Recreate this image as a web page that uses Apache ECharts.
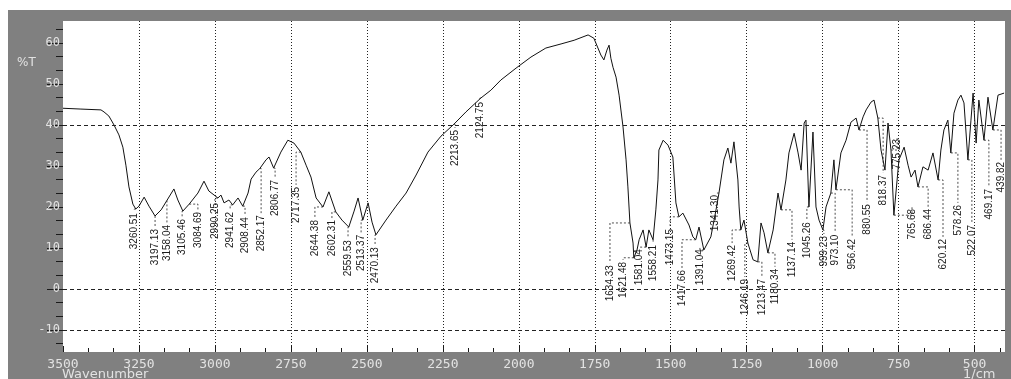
<!DOCTYPE html>
<html>
<head>
<meta charset="utf-8">
<title>IR spectrum</title>
<script src="https://cdn.jsdelivr.net/npm/echarts@6/dist/echarts.min.js"></script>
<style>
  html, body { margin: 0; padding: 0; background: #ffffff; }
  #chart { width: 1011px; height: 379px; }
</style>
</head>
<body>
<div id="chart"></div>
<script>
// Spectrum trace: wavenumber (1/cm) and transmittance (%T)
const wavenumber = [
  3500, 3441, 3375, 3365, 3349, 3332, 3316, 3303, 3293, 3283, 3270, 3260.51, 3250, 3233, 3217,
  3197.13, 3177, 3158.04, 3135, 3122, 3105.46, 3084.69, 3056, 3036, 3020, 2990.25, 2980, 2970,
  2954, 2941.62, 2924, 2908.44, 2891, 2881, 2865, 2852.17, 2832, 2822, 2806.77, 2783, 2760, 2740,
  2717.35, 2700, 2684, 2667, 2644.38, 2625, 2602.31, 2582, 2559.53, 2542, 2529, 2513.37, 2496,
  2483, 2470.13, 2437, 2404, 2371, 2338, 2299, 2256, 2213.65, 2174, 2124.75, 2092, 2059, 2009,
  1960, 1911, 1861, 1818, 1772, 1753, 1730, 1720, 1710, 1703, 1697, 1690, 1680, 1670, 1657,
  1647, 1641, 1634.33, 1624, 1621.48, 1611, 1604, 1591, 1581.04, 1572, 1558.21, 1549, 1542,
  1539, 1525, 1509, 1493, 1483, 1473.15, 1460, 1440, 1427, 1417.66, 1407, 1391.04, 1368, 1351,
  1341.30, 1325, 1312, 1302, 1292, 1279, 1275, 1269.42, 1259, 1246.19, 1229, 1213.47, 1203,
  1193, 1180.34, 1163, 1147, 1137.14, 1121, 1111, 1094, 1081, 1071, 1061, 1055, 1045.26, 1032,
  1022, 1012, 999.23, 989, 973.10, 963, 956.42, 940, 923, 907, 890, 880.55, 867, 857, 841, 831,
  818.37, 808, 795, 785, 775.23, 765.68, 749, 732, 719, 709, 696, 686.44, 670, 653, 637, 620.12,
  611, 601, 588, 578.26, 568, 555, 545, 535, 522.07, 512, 505, 495, 486, 469.17, 456, 439.82,
  423, 403
];
const transmittance = [
  44.1, 43.9, 43.7, 43.2, 42.2, 40.0, 37.6, 34.6, 30.2, 24.9, 20.7, 19.5, 20.2, 22.4, 20.2,
  17.8, 19.3, 21.6, 24.4, 21.7, 19.0, 20.7, 23.4, 26.3, 23.9, 22.2, 22.9, 21.0,
  21.7, 20.5, 22.2, 20.2, 23.4, 26.8, 28.5, 29.4, 31.5, 32.2, 29.5, 33.4, 36.3, 35.6,
  33.4, 30.2, 27.3, 22.2, 20.0, 23.7, 18.8, 16.8, 15.1, 19.0, 22.2, 16.8, 21.0,
  16.3, 13.2, 16.8, 20.2, 23.4, 27.8, 33.4, 37.3, 40.2, 43.2, 46.6, 48.5, 51.0, 53.9,
  56.6, 58.8, 59.8, 60.7, 62.0, 61.2, 57.1, 55.9, 58.3, 59.5, 56.3, 54.1, 51.7, 47.3, 39.5,
  31.5, 24.9, 16.1, 11.2, 7.6, 9.5, 12.0, 14.4, 10.2, 14.4, 12.0, 19.3, 26.6,
  33.9, 36.3, 35.1, 32.2, 21.0, 17.6, 18.5, 15.6, 12.7, 12.0, 15.1, 9.5, 12.7, 19.3,
  23.4, 31.5, 34.4, 30.7, 35.9, 26.6, 20.0, 14.4, 16.8, 11.2, 7.1, 6.6, 16.1,
  13.7, 8.8, 14.4, 23.4, 19.3, 26.6, 33.2, 38.0, 33.2, 29.0, 40.5, 41.2, 20.0, 38.3,
  20.0, 16.8, 14.4, 20.0, 23.4, 31.5, 24.2, 33.2, 36.3, 40.7, 41.7, 38.8, 42.0, 43.7, 45.6, 46.1,
  41.7, 33.9, 29.0, 40.5, 33.9, 18.0, 31.5, 34.6, 30.2, 27.3, 29.0, 24.9, 29.8, 29.0, 33.2, 26.6,
  33.9, 38.8, 41.2, 33.2, 42.9, 46.1, 47.3, 45.4, 31.5, 41.2, 47.8, 35.6, 46.1, 36.3, 46.8, 38.8,
  47.3, 47.8
];

// Picked peaks (value printed beside each one)
const peakWn = [
  3260.51, 3197.13, 3158.04, 3105.46, 3084.69, 2990.25, 2941.62, 2908.44, 2852.17, 2806.77,
  2717.35, 2644.38, 2602.31, 2559.53, 2513.37, 2470.13, 2213.65, 2124.75,
  1634.33, 1621.48, 1581.04, 1558.21, 1473.15, 1417.66, 1391.04, 1341.30, 1269.42, 1246.19,
  1213.47, 1180.34, 1137.14, 1045.26, 999.23, 973.10, 956.42, 880.55, 818.37, 775.23, 765.68,
  686.44, 620.12, 578.26, 522.07, 469.17, 439.82
];
const peakT = [
  19.5, 17.8, 21.6, 19.0, 20.7, 22.2, 20.5, 20.2, 29.4, 29.5,
  33.4, 20.0, 18.8, 15.1, 16.8, 13.2, 40.2, 46.6,
  16.1, 7.6, 10.2, 12.0, 17.6, 12.0, 9.5, 23.4, 14.4, 11.2,
  6.6, 8.8, 19.3, 20.0, 14.4, 23.4, 24.2, 38.8, 41.7, 33.9, 18.0,
  24.9, 26.6, 33.2, 31.5, 36.3, 38.8
];
// Where each peak label is set (top end of the rotated text)
const labelWn = [
  3266, 3197, 3158, 3108, 3056, 3000, 2950, 2901, 2848, 2802,
  2733, 2671, 2615, 2562, 2519, 2473, 2210, 2128,
  1700, 1657, 1604, 1558, 1502, 1463, 1404, 1354, 1298, 1256,
  1200, 1157, 1101, 1052, 996, 959, 903, 854, 801, 755, 706,
  653, 604, 555, 509, 453, 413
];
const labelT = [
  19.0, 15.1, 16.1, 17.6, 19.3, 21.5, 19.3, 18.0, 18.5, 27.1,
  25.4, 17.3, 17.3, 12.4, 13.7, 10.7, 39.3, 46.1,
  6.3, 7.1, 10.2, 11.2, 15.1, 5.1, 10.2, 23.4, 11.2, 2.9,
  2.9, 5.4, 12.0, 16.8, 13.4, 13.7, 12.7, 21.2, 28.3, 37.1, 20.0,
  20.0, 12.7, 21.0, 16.1, 24.9, 31.5
];
const peakLabels = peakWn.map(function (v) { return v.toFixed(2); });

// Axis ticks and reference lines
const xTickValues = [3500, 3250, 3000, 2750, 2500, 2250, 2000, 1750, 1500, 1250, 1000, 750, 500];
const xMinorTicks = [3416.7, 3333.3, 3166.7, 3083.3, 2916.7, 2833.3, 2666.7, 2583.3, 2416.7, 2333.3,
  2166.7, 2083.3, 1916.7, 1833.3, 1666.7, 1583.3, 1416.7, 1333.3, 1166.7, 1083.3, 916.7, 833.3,
  666.7, 583.3, 416.7];
const yTickValues = [60, 50, 40, 30, 20, 10, 0, -10];
const yMinorTicks = [63.3, 56.7, 53.3, 46.7, 43.3, 36.7, 33.3, 26.7, 23.3, 16.7, 13.3, 6.7, 3.3,
  -3.3, -6.7, -13.3];
const verticalGrid = [3250, 3000, 2750, 2500, 2250, 2000, 1750, 1500, 1250, 1000, 750, 500];
const horizontalGrid = [40, 0, -10];

const X_MIN = 400, X_MAX = 3500, Y_MIN = -15.4, Y_MAX = 65.4;
const INK = '#1a1a1a';
const PALE = '#e2e2e2';
const plain = function (v) { return String(v); };

const chart = echarts.init(document.getElementById('chart'), null, { renderer: 'canvas' });

const gridLines = verticalGrid.map(function (v) {
  return { xAxis: v, lineStyle: { type: [1, 2], color: '#222', width: 1 } };
}).concat(horizontalGrid.map(function (v) {
  return { yAxis: v, lineStyle: { type: [4, 3], color: '#222', width: 1 } };
}));

const xBase = {
  type: 'value', inverse: true, min: X_MIN, max: X_MAX, position: 'bottom',
  axisLine: { show: false, onZero: false }, splitLine: { show: false }
};
const yBase = {
  type: 'value', min: Y_MIN, max: Y_MAX, position: 'left',
  axisLine: { show: false, onZero: false }, splitLine: { show: false }
};

chart.setOption({
  animation: false,
  backgroundColor: '#ffffff',
  grid: {
    left: 63, right: 6, top: 21, bottom: 27,
    show: true, backgroundColor: '#ffffff', borderWidth: 0
  },
  graphic: [
    { type: 'rect', z: -100, shape: { x: 8, y: 10, width: 1003, height: 369 }, style: { fill: '#808080' } },
    { type: 'text', left: 17, top: 57, style: { text: '%T', fill: PALE, font: '12px "DejaVu Sans"' } },
    { type: 'text', left: 62, top: 368, style: { text: 'Wavenumber', fill: PALE, font: '13px "DejaVu Sans"' } },
    { type: 'text', left: 963, top: 368, style: { text: '1/cm', fill: PALE, font: '13px "DejaVu Sans"' } }
  ],
  xAxis: [
    Object.assign({}, xBase, {
      axisTick: { show: true, inside: true, length: 6, customValues: xTickValues, lineStyle: { color: INK } },
      axisLabel: {
        customValues: xTickValues, showMinLabel: true, showMaxLabel: true, formatter: plain,
        color: PALE, fontSize: 13, fontFamily: 'DejaVu Sans Mono', margin: 6
      }
    }),
    Object.assign({}, xBase, {
      axisTick: { show: true, inside: true, length: 4, customValues: xMinorTicks, lineStyle: { color: INK } },
      axisLabel: { show: false }
    })
  ],
  yAxis: [
    Object.assign({}, yBase, {
      axisTick: { show: true, length: 16, customValues: yTickValues, lineStyle: { color: INK } },
      axisLabel: {
        customValues: yTickValues, formatter: plain,
        color: PALE, fontSize: 12, fontFamily: 'DejaVu Sans Mono', margin: 3
      }
    }),
    Object.assign({}, yBase, {
      axisTick: { show: true, length: 7, customValues: yMinorTicks, lineStyle: { color: INK } },
      axisLabel: { show: false }
    })
  ],
  series: [
    {
      type: 'line',
      xAxisIndex: 0, yAxisIndex: 0,
      data: wavenumber.map(function (w, i) { return [w, transmittance[i]]; }),
      showSymbol: false,
      lineStyle: { color: '#111', width: 1 },
      z: 3,
      markLine: {
        silent: true, symbol: ['none', 'none'], label: { show: false },
        data: gridLines
      }
    },
    {
      type: 'custom',
      xAxisIndex: 0, yAxisIndex: 0,
      z: 4,
      data: peakWn.map(function (w, i) { return [w, peakT[i], labelWn[i], labelT[i]]; }),
      renderItem: function (params, api) {
        const p = api.coord([api.value(0), api.value(1)]);
        const c = api.coord([api.value(2), api.value(1)]);
        const a = api.coord([api.value(2), api.value(3)]);
        return {
          type: 'group',
          children: [
            {
              type: 'polyline',
              shape: { points: [p, c, a] },
              style: { stroke: '#222', lineWidth: 0.8, lineDash: [2, 2], fill: null }
            },
            {
              type: 'text',
              x: a[0], y: a[1] + 2,
              rotation: Math.PI / 2,
              style: {
                text: peakLabels[params.dataIndex],
                fill: INK,
                font: '10px "Liberation Sans"',
                align: 'right',
                verticalAlign: 'middle'
              }
            }
          ]
        };
      }
    }
  ]
});
</script>
</body>
</html>
